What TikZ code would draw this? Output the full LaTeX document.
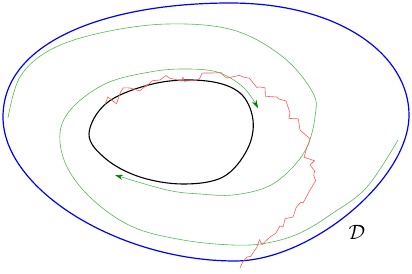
\documentclass[tikz,border=0pt]{standalone}
\usepackage{amsmath, amssymb}
\usetikzlibrary{arrows.meta, decorations.pathmorphing}

\begin{document}
\begin{tikzpicture}[x=1pt, y=-1pt, line join=round]
	\useasboundingbox (0,0) rectangle (412,273);
	\tikzset{flow/.style={color={rgb,255:red,85;green,185;blue,85}, line width=.6pt},
	  flowtip/.style={-{Stealth[length=8pt, width=5pt, color={rgb,255:red,0;green,125;blue,0}]}}}
	\draw[color=blue, line width=1.2pt] (3,117) .. controls (3,40) and (110,3) .. (230,3) .. controls (340,3) and (409,55) .. (409,115) .. controls (409,180) and (310,261) .. (235,261) .. controls (120,261) and (3,190) .. (3,117) -- cycle;
	\draw[line width=1.1pt] plot[smooth cycle, tension=.6] coordinates {(89,134) (108,102) (157,83) (207,81) (240,93) (253,120) (247,150) (223,177) (183,184) (140,177) (106,159)};
	\draw[flow, flowtip] plot[smooth, tension=.6] coordinates {(8,118) (20,77) (50,50) (100,33) (167,24) (233,30) (283,57) (313,93) (315,117) (307,147) (290,170) (267,187) (233,195) (200,194) (167,190) (115,175)};
	\draw[flow, flowtip] plot[smooth, tension=.6] coordinates {(398,140) (367,187) (333,213) (300,233) (267,243) (233,245) (183,240) (133,227) (93,200) (67,167) (60,133) (73,107) (107,83) (150,72) (183,69) (217,72) (243,87) (258,108)};
	\pgfmathsetseed{2024}
	\draw[color={rgb,255:red,255;green,90;blue,90}, line width=.6pt, decorate, decoration={random steps, segment length=6pt, amplitude=6pt}] (105,105) -- (130,88) -- (160,80) -- (183,77) -- (213,73) -- (243,77) -- (260,87) -- (277,97) -- (290,113) -- (300,130) -- (307,147) -- (310,165) -- (310,190) -- (303,203) -- (293,217) -- (283,227) -- (270,237) -- (257,247) -- (247,257) -- (240,268);
	\node (dom) at (357,232) {\huge$\mathcal{D}$};
\end{tikzpicture}
\end{document}
